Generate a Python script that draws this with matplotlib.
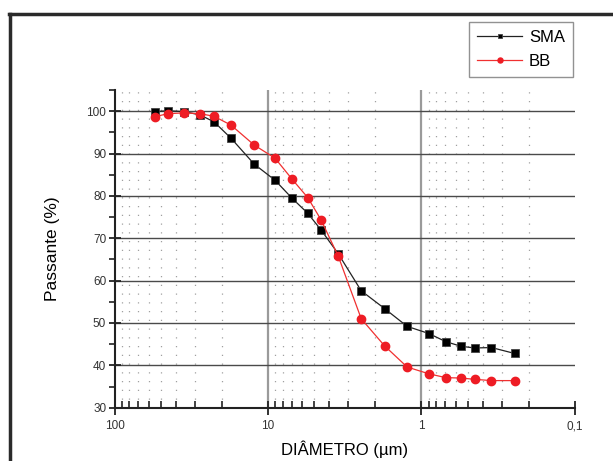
import matplotlib
matplotlib.use("Agg")
import matplotlib.pyplot as plt
from matplotlib.lines import Line2D
from matplotlib.ticker import FixedLocator, NullFormatter

plt.rcParams["font.family"] = ["Liberation Sans", "DejaVu Sans"]

# diameters (um) and passing percentages
sma_d = [54.5, 45.0, 35.1, 27.7, 22.5, 17.4, 12.3, 9.0, 6.95, 5.51, 4.52,
         3.48, 2.47, 1.74, 1.24, 0.894, 0.695, 0.553, 0.450, 0.350, 0.247]
sma_p = [99.9, 100.1, 99.9, 99.1, 97.5, 93.6, 87.5, 83.7, 79.4, 75.9, 72.0,
         66.3, 57.6, 53.4, 49.2, 47.5, 45.6, 44.5, 44.1, 44.2, 42.8]
bb_d = sma_d
bb_p = [98.7, 99.4, 99.6, 99.4, 98.8, 96.7, 92.0, 88.9, 83.9, 79.6, 74.4,
        65.7, 51.0, 44.6, 39.6, 38.0, 37.1, 37.0, 36.7, 36.4, 36.4]

x_major = [100, 10, 1, 0.1]
x_labels = ["100", "10", "1", "0,1"]
y_major = [30, 40, 50, 60, 70, 80, 90, 100]

fig = plt.figure(figsize=(6.13, 4.61), dpi=100)
ax = fig.add_axes([0.1868, 0.1156, 0.7512, 0.6892])
ax.set_xscale("log")
ax.set_xlim(100, 0.1)
ax.set_ylim(30, 105)

# grid: dotted minor verticals, solid major verticals and horizontals
minor_x = [m * 10.0 ** e for e in (1, 0, -1) for m in range(2, 10)]
for xv in minor_x:
    ax.axvline(xv, color="#a0a0a0", lw=0.9, ls=(0, (1, 6)), zorder=0)
for xv in [10, 1]:
    ax.axvline(xv, color="#9a9a9a", lw=1.6, zorder=0)
for yv in y_major[1:]:
    ax.axhline(yv, color="#4a4a4a", lw=1.0, zorder=0)

ax.plot(sma_d, sma_p, color="#222222", lw=0.9, marker="s", ms=5.6,
        mfc="black", mec="#444444", mew=0.6, label="SMA", zorder=3)
ax.plot(bb_d, bb_p, color="#f03030", lw=0.9, marker="o", ms=6.0,
        mfc="#ee1c24", mec="#ee1c24", label="BB", zorder=4)

for s in ["top", "right"]:
    ax.spines[s].set_visible(False)
for s in ["left", "bottom"]:
    ax.spines[s].set_color("#222222")
    ax.spines[s].set_linewidth(1.5)

ax.xaxis.set_major_locator(FixedLocator(x_major))
ax.set_xticklabels(x_labels)
ax.xaxis.set_minor_locator(FixedLocator(minor_x))
ax.xaxis.set_minor_formatter(NullFormatter())
ax.yaxis.set_major_locator(FixedLocator(y_major))
ax.yaxis.set_minor_locator(FixedLocator([35, 45, 55, 65, 75, 85, 95, 105]))

ax.tick_params(axis="x", which="major", direction="inout", length=10, width=1.3,
               color="#222222", labelsize=8.5, labelcolor="#333333", pad=4)
ax.tick_params(axis="x", which="minor", direction="in", length=5, width=1.2,
               color="#222222")
ax.tick_params(axis="y", which="major", direction="inout", length=8, width=1.3,
               color="#222222", labelsize=8.5, labelcolor="#333333", pad=2)
ax.tick_params(axis="y", which="minor", direction="out", length=4, width=1.2,
               color="#222222")

ax.set_xlabel("DIÂMETRO (µm)", fontsize=12, labelpad=6)
ax.set_ylabel("Passante (%)", fontsize=12.5, labelpad=19)

leg = fig.legend(loc="upper left", bbox_to_anchor=(469 / 613, 1 - 22 / 461),
                 borderaxespad=0, fontsize=12, frameon=True, fancybox=False,
                 handlelength=2.7, markerscale=0.6, borderpad=0.5,
                 labelspacing=0.5, handletextpad=0.4)
leg.get_frame().set_edgecolor("#777777")
leg.get_frame().set_linewidth(1.0)

# outer frame (left and top edges visible)
fig.add_artist(Line2D([10 / 613, 10 / 613], [0, 1 - 14 / 461],
                      color="#2a2a2a", lw=2.5, transform=fig.transFigure))
fig.add_artist(Line2D([8.8 / 613, 1], [1 - 14 / 461, 1 - 14 / 461],
                      color="#2a2a2a", lw=2.5, transform=fig.transFigure))

fig.savefig("out.png", dpi=100)
